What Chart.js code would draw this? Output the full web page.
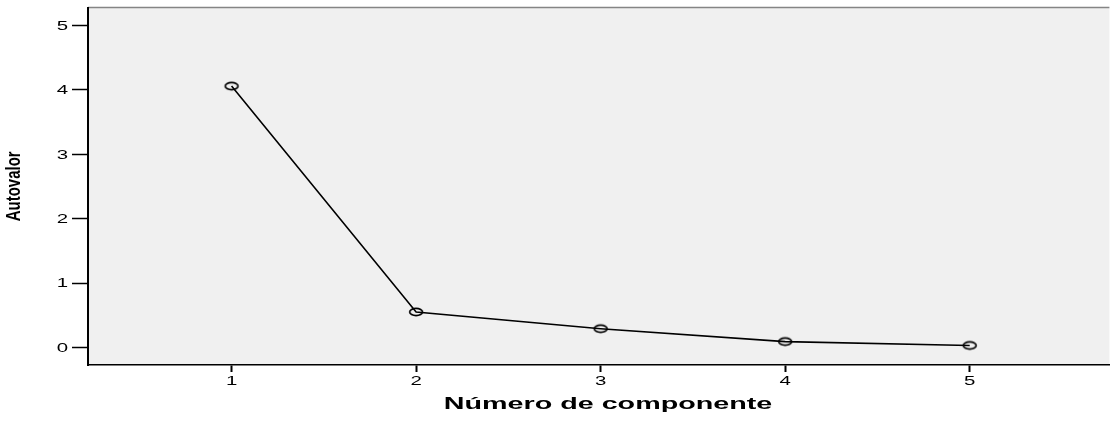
<!DOCTYPE html>
<html>
<head>
<meta charset="utf-8">
<script src="https://cdn.jsdelivr.net/npm/chart.js@4/dist/chart.umd.min.js"></script>
<style>
html,body{margin:0;padding:0;background:#fff;}
#wrap{width:1117px;height:421px;position:relative;}
</style>
</head>
<body>
<div id="wrap"><canvas id="c"></canvas></div>
<script>
const components = [1, 2, 3, 4, 5];
const eigenvalues = [4.06, 0.55, 0.29, 0.09, 0.03];
const xTicks = [1, 2, 3, 4, 5];
const yTicks = [0, 1, 2, 3, 4, 5];
const xTitle = 'Número de componente';
const yTitle = 'Autovalor';

// elliptical open marker (the reference is horizontally stretched)
const marker = document.createElement('canvas');
marker.width = 18; marker.height = 12;
(function () {
  const m = marker.getContext('2d');
  m.strokeStyle = '#000';
  m.lineWidth = 1.7;
  m.beginPath();
  m.ellipse(9, 6, 6.4, 3.6, 0, 0, Math.PI * 2);
  m.stroke();
})();

const SX = 1.7; // horizontal stretch of the reference's text

const bgPlugin = {
  id: 'bg',
  beforeDraw(chart) {
    const {ctx, chartArea: a} = chart;
    ctx.save();
    ctx.fillStyle = '#f0f0f0';
    ctx.fillRect(a.left, a.top, a.right - a.left, a.bottom - a.top);
    ctx.strokeStyle = '#858585';
    ctx.lineWidth = 1.5;
    ctx.beginPath();
    ctx.moveTo(a.left, a.top);
    ctx.lineTo(a.right, a.top);
    ctx.stroke();
    ctx.restore();
  },
  afterDraw(chart) {
    const {ctx} = chart;
    const xs = chart.scales.x, ys = chart.scales.y;
    ctx.save();
    ctx.fillStyle = '#000';
    // y tick labels
    ctx.font = '12px "Liberation Sans", Arial, sans-serif';
    ctx.textAlign = 'right';
    ctx.textBaseline = 'middle';
    yTicks.forEach(v => {
      const y = ys.getPixelForValue(v);
      ctx.save();
      ctx.translate(68, y + 1);
      ctx.scale(SX, 1);
      ctx.fillText(String(v), 0, 0);
      ctx.restore();
    });
    // x tick labels
    ctx.textAlign = 'center';
    xTicks.forEach(v => {
      const x = xs.getPixelForValue(v);
      ctx.save();
      ctx.translate(x, xs.top + 16.5);
      ctx.scale(SX, 1);
      ctx.fillText(String(v), 0, 0);
      ctx.restore();
    });
    // x title
    ctx.font = 'bold 16.5px "Liberation Sans", Arial, sans-serif';
    ctx.save();
    ctx.translate(608, 404.5);
    ctx.scale(1.74, 1);
    ctx.fillText(xTitle, 0, 0);
    ctx.restore();
    // y title
    ctx.font = 'bold 15px "Liberation Sans", Arial, sans-serif';
    ctx.save();
    ctx.translate(15, (ys.top + ys.bottom) / 2);
    ctx.scale(1.3, 1);
    ctx.rotate(-Math.PI / 2);
    ctx.fillText(yTitle, 0, 0);
    ctx.restore();
    ctx.restore();
  }
};

new Chart(document.getElementById('c'), {
  type: 'line',
  data: {
    datasets: [{
      data: components.map((c, i) => ({x: c, y: eigenvalues[i]})),
      borderColor: '#000',
      borderWidth: 1.6,
      pointStyle: marker,
      pointRadius: 6,
      tension: 0
    }]
  },
  plugins: [bgPlugin],
  options: {
    responsive: true,
    maintainAspectRatio: false,
    animation: false,
    layout: {padding: {top: 5.5, right: 0, bottom: 0, left: 0}},
    plugins: {legend: {display: false}, tooltip: {enabled: false}},
    scales: {
      x: {
        type: 'linear',
        min: 0.222,
        max: 5.757,
        afterBuildTicks: s => { s.ticks = xTicks.map(v => ({value: v})); },
        afterFit: s => { s.height = 56; s.paddingLeft = 0; s.paddingRight = 0; },
        grid: {display: true, drawOnChartArea: false, drawTicks: true, tickLength: 7, tickWidth: 2, tickColor: '#000'},
        border: {display: true, color: '#000', width: 1.5},
        ticks: {display: false},
        title: {display: false}
      },
      y: {
        type: 'linear',
        min: -0.274,
        max: 5.28,
        afterBuildTicks: s => { s.ticks = yTicks.map(v => ({value: v})); },
        afterFit: s => { s.width = 88; s.paddingTop = 0; s.paddingBottom = 0; },
        grid: {display: true, drawOnChartArea: false, drawTicks: true, tickLength: 16, tickWidth: 1.5, tickColor: '#000'},
        border: {display: true, color: '#000', width: 2},
        ticks: {display: false},
        title: {display: false}
      }
    }
  }
});
</script>
</body>
</html>
